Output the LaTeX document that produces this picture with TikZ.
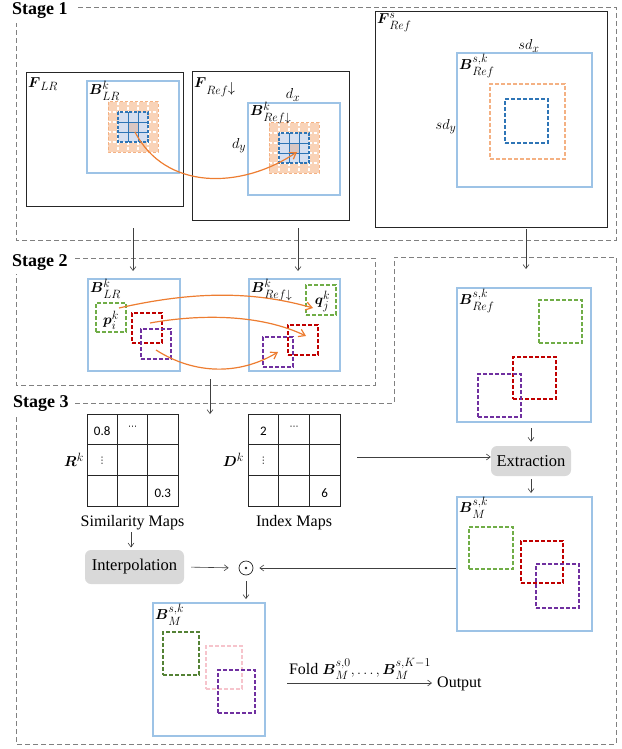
\documentclass[tikz,border=0pt]{standalone}
\usepackage{amsmath}
\usepackage{fontspec}
\setmainfont{Liberation Serif}
\newfontfamily\numfont{Carlito}
\newfontfamily\symfont{DejaVu Sans}
\renewcommand\defaultscriptratio{.78}
\usetikzlibrary{arrows.meta,calc,fit}
\definecolor{lblue}{HTML}{9DC3E6}
\definecolor{framegray}{HTML}{808080}
\definecolor{orfill}{HTML}{F9D3B8}
\definecolor{ordashc}{HTML}{F4B183}
\definecolor{bfillc}{HTML}{D6DFF0}
\definecolor{cfillc}{HTML}{D9C6C2}
\definecolor{bdashc}{HTML}{2E75B6}
\definecolor{arrorange}{HTML}{ED7D31}
\definecolor{gr}{HTML}{70AD47}
\definecolor{rd}{HTML}{C00000}
\definecolor{pu}{HTML}{7030A0}
\definecolor{dgr}{HTML}{548235}
\definecolor{pk}{HTML}{F6C4CC}
\definecolor{opgray}{HTML}{D9D9D9}
\newcommand\featgrid[1]{%
\begin{scope}[shift={#1}]
\fill[orfill] (0,0) rectangle (50,50);
\foreach \t in {10,20,30,40}{%
\draw[white,line width=1.4pt,dash pattern=on 3pt off 2pt] (\t,0)--(\t,50);
\draw[white,line width=1.4pt,dash pattern=on 3pt off 2pt] (0,\t)--(50,\t);}
\draw[ordashc,line width=1pt,dash pattern=on 3pt off 2pt] (0,0) rectangle (50,50);
\fill[bfillc] (10,10) rectangle (40,40);
\fill[cfillc] (20,20) rectangle (30,30);
\draw[bdashc,line width=0.9pt] (20,10)--(20,40) (30,10)--(30,40) (10,20)--(40,20) (10,30)--(40,30);
\draw[bdashc,line width=1.2pt,dash pattern=on 3pt off 1.6pt] (10,10) rectangle (40,40);
\end{scope}}
\begin{document}
\begin{tikzpicture}[x=1pt,y=-1pt,
  frame/.style={draw=framegray,line width=0.9pt,dash pattern=on 5pt off 3pt},
  stagelab/.style={font=\fontsize{18}{20}\selectfont\bfseries,inner sep=0pt,anchor=west},
  blk/.style={draw=black!85,line width=1pt,inner sep=0pt},
  bbox/.style={draw=lblue,line width=2pt,inner sep=0pt},
  dbox/.style={line width=1.2pt,dash pattern=on 4pt off 2pt,inner sep=0pt},
  arr/.style={-{Straight Barb[length=4pt,width=6pt]},draw=black!75,line width=0.6pt},
  oarr/.style={-{Straight Barb[length=6pt,width=8pt]},draw=arrorange,line width=1.2pt},
  lab/.style={font=\fontsize{15.5}{17}\selectfont,inner sep=0pt},
  txt/.style={font=\fontsize{16}{18}\selectfont,inner sep=0pt},
  op/.style={fill=opgray,rounded corners=6pt,font=\fontsize{16.5}{18}\selectfont,inner sep=0pt},
  cell/.style={font=\numfont\fontsize{13}{15}\selectfont,inner sep=0pt},
  dots/.style={font=\symfont\fontsize{9}{10}\selectfont,inner sep=0pt},
  mapbox/.style={draw=black!85,line width=1pt,inner sep=0pt}]
\useasboundingbox (0,0) rectangle (621,749);

% ---------- stage frames
\node[stagelab] (st1) at (12,11) {Stage 1};
\draw[frame] (78,7) -- (616,7) -- (616,240) -- (16,240) -- (16,23);
\node[stagelab] (st2) at (12,263) {Stage 2};
\draw[frame] (75,258) -- (375,258) -- (375,385) -- (16,385) -- (16,274);
\node[stagelab] (st3) at (13,404) {Stage 3};
\draw[frame] (75,403) -- (394,403) -- (394,257) -- (616,257) -- (616,744) -- (16,744) -- (16,416);

% ---------- Stage 1
\node[blk,fit={(26,73)(183,206)}] (flr) {};
\node[bbox,fit={(87,81)(179,173)}] (blr1) {};
\featgrid{(108,102)}
\node[lab,anchor=north west] (flrlab) at (28,77) {$\boldsymbol{F}_{LR}$};
\node[lab,anchor=north west] (blr1lab) at (89,81) {$\boldsymbol{B}^{k}_{LR}$};

\node[blk,fit={(192,72)(349,220)}] (fref) {};
\node[bbox,fit={(248,103)(340,195)}] (bref1) {};
\featgrid{(269,123)}
\node[lab,anchor=north west] (freflab) at (194,77) {$\boldsymbol{F}_{\raisebox{-3pt}{$\scriptstyle Ref$}\raisebox{-1pt}{$\downarrow$}}$};
\node[lab,anchor=north west] (bref1lab) at (250,102) {$\boldsymbol{B}^{k}_{Ref\downarrow}$};
\node[lab] (dx) at (293,95) {$d_x$};
\node[lab] (dy) at (239,146) {$d_y$};
\coordinate (o1s) at (135,132);
\coordinate (o1e) at (297,152);
\draw[oarr] (o1s) .. controls (165,190) and (240,190) .. (o1e);

\node[blk,fit={(375,12)(607,227)}] (fsref) {};
\node[bbox,fit={(457,53)(592,187)}] (bsref) {};
\node[dbox,draw=ordashc,fit={(490,84)(565,159)}] (bsor) {};
\node[dbox,draw=bdashc,fit={(505,99)(548,143)}] (bsbl) {};
\node[lab,anchor=north west] (fsreflab) at (377,13) {$\boldsymbol{F}^{s}_{Ref}$};
\node[lab,anchor=north west] (bsreflab) at (459,54) {$\boldsymbol{B}^{s,k}_{Ref}$};
\node[lab] (sdx) at (529,46) {$sd_x$};
\node[lab] (sdy) at (446,127) {$sd_y$};

% ---------- Stage 2
\node[bbox,fit={(88,279)(180,371)}] (blr2) {};
\node[dbox,draw=gr,fit={(96,303)(126,332)}] (pbox) {};
\node[dbox,draw=rd,fit={(132,313)(162,343)}] (rd1) {};
\node[dbox,draw=pu,fit={(141,329)(171,359)}] (pu1) {};
\node[lab,anchor=north west] (blr2lab) at (90,279) {$\boldsymbol{B}^{k}_{LR}$};
\node[lab] (plab) at ($(pbox.center)+(0,2.5)$) {$\boldsymbol{p}^{k}_{i}$};

\node[bbox,fit={(249,279)(340,371)}] (bref2) {};
\node[dbox,draw=gr,fit={(306,285)(336,315)}] (qbox) {};
\node[dbox,draw=rd,fit={(288,325)(318,355)}] (rd2) {};
\node[dbox,draw=pu,fit={(263,337)(293,367)}] (pu2) {};
\node[lab,anchor=north west] (bref2lab) at (251,279) {$\boldsymbol{B}^{k}_{Ref\downarrow}$};
\node[lab] (qlab) at ($(qbox.center)+(1.5,1.5)$) {$\boldsymbol{q}^{k}_{j}$};

\coordinate (a1s) at (119,308); \coordinate (a1e) at (313,308);
\coordinate (a2s) at (150,323); \coordinate (a2e) at (306,336);
\coordinate (a3s) at (156,350); \coordinate (a3e) at (278,352);
\draw[oarr] (a1s) .. controls (190,292) and (250,290) .. (a1e);
\draw[oarr] (a2s) .. controls (200,314) and (260,314) .. (a2e);
\draw[oarr] (a3s) .. controls (195,375) and (240,375) .. (a3e);

% arrows stage 1 -> 2
\coordinate (d1) at (133,228);
\coordinate (d2) at (298,228);
\coordinate (d3) at (526,229);
\draw[arr,shorten >=7pt] (d1) -- (d1 |- blr2.north);
\draw[arr,shorten >=7pt] (d2) -- (d2 |- bref2.north);

% ---------- right column
\node[bbox,fit={(457,288)(591,422)}] (bsref2) {};
\node[dbox,draw=gr,fit={(539,300)(582,343)}] (gr3) {};
\node[dbox,draw=rd,fit={(513,357)(556,399)}] (rd3) {};
\node[dbox,draw=pu,fit={(478,374)(521,417)}] (pu3) {};
\node[lab,anchor=north west] (bsref2lab) at (459,289) {$\boldsymbol{B}^{s,k}_{Ref}$};
\draw[arr,shorten >=18pt] (d3) -- (d3 |- bsref2.north);

\node[op,minimum width=80pt,minimum height=30pt] (extr) at (531,461) {Extraction};
\draw[arr,shorten <=5pt,shorten >=4pt] (bsref2.south -| extr.north) -- (extr.north);

\node[bbox,fit={(457,497)(592,631)}] (bm1) {};
\node[dbox,draw=gr,fit={(469,527)(513,569)}] (gr4) {};
\node[dbox,draw=rd,fit={(521,541)(563,583)}] (rd4) {};
\node[dbox,draw=pu,fit={(536,564)(579,608)}] (pu4) {};
\node[lab,anchor=north west] (bm1lab) at (459,497) {$\boldsymbol{B}^{s,k}_{M}$};
\draw[arr,shorten <=3pt,shorten >=3pt] (extr.south) -- (extr.south |- bm1.north);

% ---------- Stage 3 maps
\node[mapbox,fit={(87,414)(178,506)}] (rmap) {};
\draw[black!85,line width=1pt] (117.3,414)--(117.3,506) (147.7,414)--(147.7,506) (87,444.7)--(178,444.7) (87,475.3)--(178,475.3);
\node[cell] (r08) at (102.2,431) {0.8};
\node[dots] (rdots) at (132.5,428) {⋯};
\node[dots] (rvd) at (102.2,461) {⋮};
\node[cell] (r03) at (162.8,493) {0.3};
\node[lab,anchor=east] (rlab) at (84,460) {$\boldsymbol{R}^{k}$};
\node[txt] (simlab) at (132.5,523) {Similarity Maps};

\node[mapbox,fit={(248,414)(340,506)}] (dmap) {};
\draw[black!85,line width=1pt] (278.7,414)--(278.7,506) (309.3,414)--(309.3,506) (248,444.7)--(340,444.7) (248,475.3)--(340,475.3);
\node[cell] (d2c) at (263.3,431) {2};
\node[dots] (ddots) at (294,428) {⋯};
\node[dots] (dvd) at (263.3,461) {⋮};
\node[cell] (d6) at (324.7,493) {6};
\node[lab,anchor=east] (dlab) at (244,460) {$\boldsymbol{D}^{k}$};
\node[txt] (idxlab) at (294,523) {Index Maps};

\coordinate (dout) at (357,457);
\draw[arr] (dout) -- (dout -| extr.west);

\coordinate (s2d) at (210,379);
\draw[arr] (s2d) -- ++(0,35);

\node[op,minimum width=99pt,minimum height=34pt] (interp) at (134.5,567) {Interpolation};
\draw[arr] ($(simlab.south)+(-1.5,2)$) -- ++(0,15);

\node[circle,draw=black!85,line width=0.7pt,minimum size=14pt,inner sep=0pt] (odot) at (246,568) {};
\fill[black!85] (odot.center) circle (1.3pt);
\draw[arr,shorten <=7pt,shorten >=10pt] (interp.east) -- (odot.west);
\draw[arr,shorten >=6pt] (bm1.west |- odot) -- (odot.east);

\node[bbox,fit={(153,603)(265,736)}] (bm2) {};
\node[dbox,draw=dgr,fit={(163,632)(199,675)}] (gr5) {};
\node[dbox,draw=pk,fit={(206,646)(242,689)}] (pk5) {};
\node[dbox,draw=pu,fit={(218,670)(255,713)}] (pu5) {};
\node[lab,anchor=north west] (bm2lab) at (155,604) {$\boldsymbol{B}^{s,k}_{M}$};
\draw[arr,shorten <=6pt,shorten >=3pt] (odot.south) -- (odot.south |- bm2.north);

\node[txt,anchor=west] (outp) at (437,684) {Output};
\coordinate (fs) at (287,683);
\draw[arr,shorten >=5pt] (fs) -- (fs -| outp.west);
\node[txt,anchor=south] (foldlab) at (360,680) {Fold {\fontsize{15.5}{17}\selectfont$\boldsymbol{B}^{s,0}_{M},\dots,\boldsymbol{B}^{s,K-1}_{M}$}};
\end{tikzpicture}
\end{document}
